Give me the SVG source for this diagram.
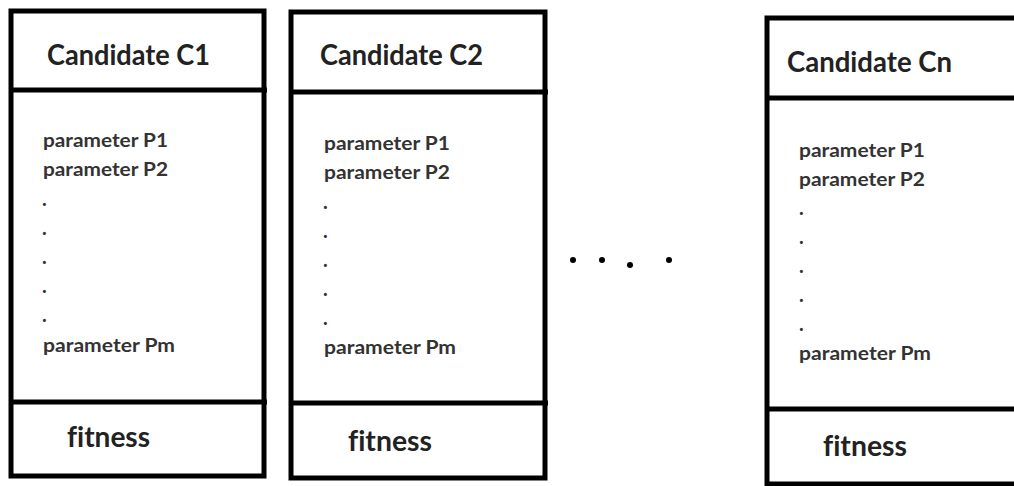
<svg xmlns="http://www.w3.org/2000/svg" width="1014" height="486" viewBox="0 0 1014 486">
<style>
.box{fill:none;stroke:#000;stroke-width:5}
.ln{stroke:#000;stroke-width:5}
.hd{font-family:Lato,"Liberation Sans",sans-serif;font-size:28px;font-weight:bold;fill:#222}
.pr{font-family:Lato,"Liberation Sans",sans-serif;font-size:18px;font-weight:bold;fill:#333}
.dt{font-family:Lato,"Liberation Sans",sans-serif;font-size:20px;font-weight:bold;fill:#333}
.ft{font-family:Lato,"Liberation Sans",sans-serif;font-size:29px;font-weight:bold;fill:#222;font-variant-ligatures:none}
.el{fill:#000}
</style>
<rect width="1014" height="486" fill="#fff"/>
<g id="candidate-c1">
<rect class="box" x="11" y="11" width="253" height="465"/>
<line class="ln" x1="9" y1="90" x2="267" y2="90"/>
<line class="ln" x1="9" y1="402" x2="267" y2="402"/>
<text class="hd" x="47" y="65" textLength="163" lengthAdjust="spacingAndGlyphs">Candidate C1</text>
<text class="pr" x="43" y="147" textLength="125" lengthAdjust="spacingAndGlyphs">parameter P1</text>
<text class="pr" x="43" y="176" textLength="125" lengthAdjust="spacingAndGlyphs">parameter P2</text>
<text class="dt" x="42" y="206">.</text>
<text class="dt" x="42" y="235">.</text>
<text class="dt" x="42" y="264">.</text>
<text class="dt" x="42" y="293">.</text>
<text class="dt" x="42" y="322">.</text>
<text class="pr" x="43" y="352" textLength="132" lengthAdjust="spacingAndGlyphs">parameter Pm</text>
<text class="ft" x="67" y="447" textLength="83" lengthAdjust="spacingAndGlyphs">fitness</text>
</g>
<g id="candidate-c2">
<rect class="box" x="291" y="12" width="254" height="466"/>
<line class="ln" x1="289" y1="92" x2="548" y2="92"/>
<line class="ln" x1="289" y1="403" x2="548" y2="403"/>
<text class="hd" x="320" y="65" textLength="163" lengthAdjust="spacingAndGlyphs">Candidate C2</text>
<text class="pr" x="324" y="150" textLength="126" lengthAdjust="spacingAndGlyphs">parameter P1</text>
<text class="pr" x="324" y="179" textLength="126" lengthAdjust="spacingAndGlyphs">parameter P2</text>
<text class="dt" x="323" y="209">.</text>
<text class="dt" x="323" y="238">.</text>
<text class="dt" x="323" y="267">.</text>
<text class="dt" x="323" y="296">.</text>
<text class="dt" x="323" y="325">.</text>
<text class="pr" x="324" y="354" textLength="132" lengthAdjust="spacingAndGlyphs">parameter Pm</text>
<text class="ft" x="348" y="451" textLength="84" lengthAdjust="spacingAndGlyphs">fitness</text>
</g>
<g id="ellipsis">
<circle class="el" cx="573" cy="260" r="3"/>
<circle class="el" cx="602" cy="260" r="3"/>
<circle class="el" cx="630" cy="265" r="3"/>
<circle class="el" cx="669" cy="260" r="3"/>
</g>
<g id="candidate-cn">
<rect class="box" x="767" y="18" width="260" height="466"/>
<line class="ln" x1="765" y1="98" x2="1020" y2="98"/>
<line class="ln" x1="765" y1="409" x2="1020" y2="409"/>
<text class="hd" x="787" y="72" textLength="165" lengthAdjust="spacingAndGlyphs">Candidate Cn</text>
<text class="pr" x="799" y="157" textLength="126" lengthAdjust="spacingAndGlyphs">parameter P1</text>
<text class="pr" x="799" y="186" textLength="126" lengthAdjust="spacingAndGlyphs">parameter P2</text>
<text class="dt" x="799" y="215">.</text>
<text class="dt" x="799" y="244">.</text>
<text class="dt" x="799" y="273">.</text>
<text class="dt" x="799" y="302">.</text>
<text class="dt" x="799" y="331">.</text>
<text class="pr" x="799" y="360" textLength="132" lengthAdjust="spacingAndGlyphs">parameter Pm</text>
<text class="ft" x="823" y="456" textLength="84" lengthAdjust="spacingAndGlyphs">fitness</text>
</g>
<g id="connectors"/>
</svg>
